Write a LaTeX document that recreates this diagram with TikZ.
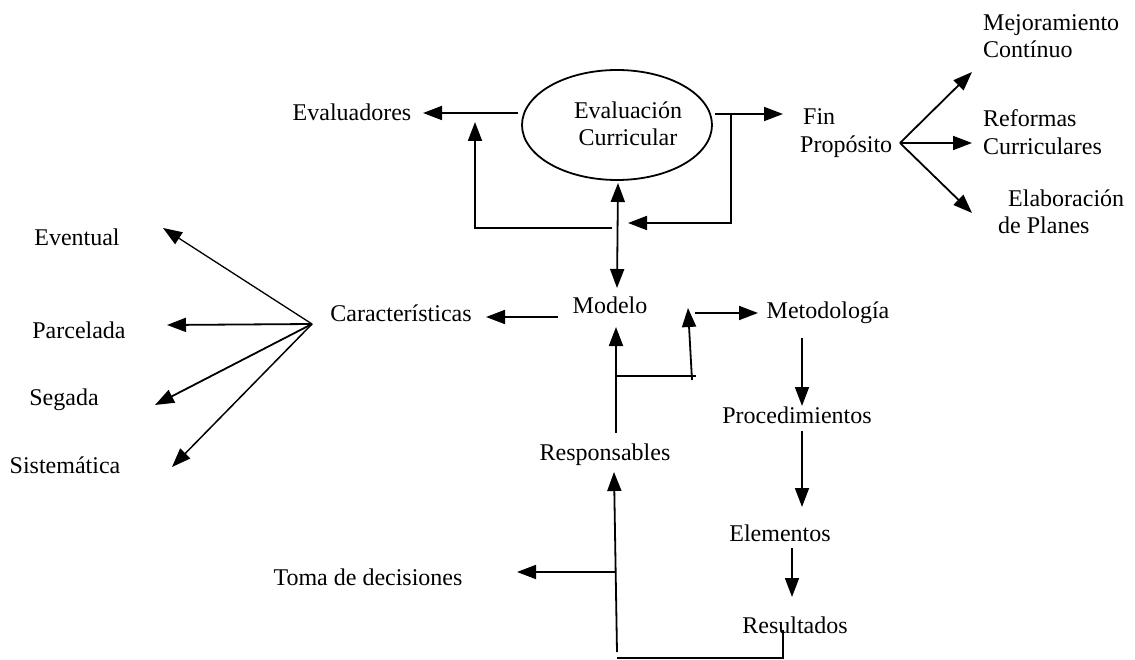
\documentclass[tikz,border=0pt]{standalone}
\usepackage{fontspec}
\setmainfont{Liberation Serif}
\usetikzlibrary{arrows.meta,shapes.geometric}
\tikzset{
  lbl/.style={font=\fontsize{24}{27.5}\selectfont, inner sep=0pt},
  conn/.style={line width=1.8pt},
  thinconn/.style={line width=1.3pt},
  arr/.style={conn, -{Triangle[length=19pt,width=14pt]}},
  thinarr/.style={thinconn, -{Triangle[length=19pt,width=14pt]}},
  dblarr/.style={conn, {Triangle[length=19pt,width=14pt]}-{Triangle[length=19pt,width=14pt]}},
}
\begin{document}
\begin{tikzpicture}[x=1pt,y=-1pt]
\useasboundingbox (0,0) rectangle (1135,660);
% nodes
\node[draw, line width=1.8pt, ellipse, minimum width=190pt, minimum height=110pt] (ev) at (617,125) {};
\node[lbl, align=center] (evt) at (628,124) {Evaluación\\Curricular};
\node[lbl] (evaluadores) at (352,112) {Evaluadores};
\node[lbl, align=left, anchor=west] (fin) at (800,133) {\hspace*{3pt}Fin\\Propósito};
\node[lbl, align=left, anchor=west] (mejora) at (983,36) {Mejoramiento\\Contínuo};
\node[lbl, align=left, anchor=west] (reformas) at (983,132) {Reformas\\Curriculares};
\node[lbl, align=left, anchor=west] (elabor) at (998,212) {\hspace*{10pt}Elaboración\\de Planes};
\node[lbl] (eventual) at (77,237) {Eventual};
\node[lbl] (parcelada) at (79,330) {Parcelada};
\node[lbl] (segada) at (64,400) {Segada};
\node[lbl] (sistematica) at (65,465) {Sistemática};
\node[lbl] (caract) at (401,313) {Características};
\node[lbl] (modelo) at (610,305) {Modelo};
\node[lbl] (metod) at (828,313) {Metodología};
\node[lbl] (proced) at (797,415) {Procedimientos};
\node[lbl] (respons) at (605,455) {Responsables};
\node[lbl] (elementos) at (780,533) {Elementos};
\node[lbl] (resultados) at (795,625) {Resultados};
\node[lbl] (toma) at (368,577) {Toma de decisiones};
% coordinates
\coordinate (evL) at (518,113);
\coordinate (evaluadoresT) at (423,113);
\coordinate (loopA) at (612,228);
\coordinate (loopB) at (475,228);
\coordinate (loopT) at (475,122);
\coordinate (evB) at (618,183);
\coordinate (modeloT) at (617,288);
\coordinate (evR) at (715,114);
\coordinate (finT) at (783,114);
\coordinate (rA) at (731,114);
\coordinate (rB) at (731,223);
\coordinate (rT) at (628,223);
\coordinate (finO) at (900,143);
\coordinate (mejT) at (972,72);
\coordinate (refT) at (972,143);
\coordinate (elaT) at (972,213);
\coordinate (carO) at (312,324);
\coordinate (eveT) at (163,228);
\coordinate (parT) at (167,325);
\coordinate (segT) at (155,405);
\coordinate (sisT) at (172,467);
\coordinate (modL) at (558,317);
\coordinate (carT) at (486,317);
\coordinate (resU) at (616,433);
\coordinate (modB) at (616,327);
\coordinate (jA) at (616,376);
\coordinate (jB) at (696,376);
\coordinate (jC) at (692,380);
\coordinate (jT) at (688,308);
\coordinate (metL) at (695,313);
\coordinate (metT) at (758,313);
\coordinate (metB) at (802,338);
\coordinate (proT) at (802,406);
\coordinate (proB) at (802,431);
\coordinate (eleT) at (802,507);
\coordinate (eleB) at (792,548);
\coordinate (resT) at (792,597);
\coordinate (botA) at (617,652);
\coordinate (respB) at (614,472);
\coordinate (tomaA) at (615,572);
\coordinate (tomaT) at (517,572);
\coordinate (bL) at (617,658);
\coordinate (bR) at (783,658);
\coordinate (bT) at (783,630);
% connectors
\draw[arr] (evL) -- (evaluadoresT);
\draw[arr] (loopA) -- (loopB) -- (loopT);
\draw[dblarr] (evB) -- (modeloT);
\draw[arr] (evR) -- (finT);
\draw[arr] (rA) -- (rB) -- (rT);
\draw[arr] (finO) -- (mejT);
\draw[arr] (finO) -- (refT);
\draw[arr] (finO) -- (elaT);
\draw[thinarr] (carO) -- (eveT);
\draw[arr] (carO) -- (parT);
\draw[arr] (carO) -- (segT);
\draw[thinarr, line width=1.5pt] (carO) -- (sisT);
\draw[arr] (modL) -- (carT);
\draw[arr] (resU) -- (modB);
\draw[conn] (jA) -- (jB);
\draw[arr] (jC) -- (jT);
\draw[arr] (metL) -- (metT);
\draw[arr] (metB) -- (proT);
\draw[arr] (proB) -- (eleT);
\draw[arr] (eleB) -- (resT);
\draw[arr] (botA) -- (respB);
\draw[arr] (tomaA) -- (tomaT);
\draw[conn] (bL) -- (bR) -- (bT);
\end{tikzpicture}
\end{document}
